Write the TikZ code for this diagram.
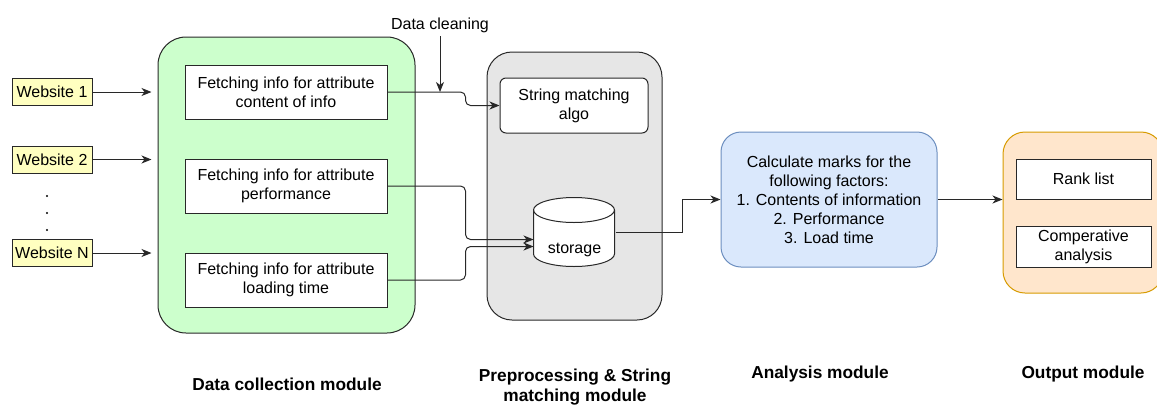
\documentclass[tikz,border=0pt]{standalone}
\usepackage{fontspec}
\setmainfont{Liberation Sans}
\usetikzlibrary{arrows.meta}

\definecolor{webyellow}{RGB}{255,255,192}
\definecolor{collgreen}{RGB}{204,255,204}
\definecolor{prepgray}{RGB}{230,230,230}
\definecolor{anafill}{RGB}{218,232,252}
\definecolor{anadraw}{RGB}{108,142,191}
\definecolor{outfill}{RGB}{255,230,204}
\definecolor{outdraw}{RGB}{215,155,0}
\definecolor{edge}{RGB}{40,40,40}

\begin{document}
\begin{tikzpicture}[x=1pt,y=-1pt,line width=1pt,
    >={Stealth[length=10pt,width=8pt,inset=3pt]},
    txt/.style={font=\fontsize{16}{19}\selectfont, align=center},
    modtitle/.style={font=\fontsize{17.3}{19.5}\selectfont\bfseries, align=center},
    website/.style={txt, draw=edge, fill=webyellow, inner sep=1pt, minimum width=80, minimum height=27},
    container/.style={draw=edge, rounded corners=28, line width=1pt},
    whitebox/.style={txt, draw=edge, fill=white, inner sep=0pt},
    lid/.style={x radius=40.5, y radius=12.5}]

    \useasboundingbox (0,0) rectangle (1157,405);

    % Draw module containers
    \node[container, fill=collgreen, minimum width=257, minimum height=296] (coll) at (286.5,185) {};
    \node[container, fill=prepgray, rounded corners=25, minimum width=175, minimum height=268] (prep) at (574.5,186) {};
    \node[container, txt, fill=anafill, draw=anadraw, rounded corners=20, minimum width=216, minimum height=135] (ana) at (829,199.5)
        {Calculate marks for the\\following factors:\\1. Contents of information\\2. Performance\\3. Load time};
    \node[container, fill=outfill, draw=outdraw, rounded corners=22, minimum width=160, minimum height=161] (out) at (1083,212.5) {};

    % Draw websites
    \node[website] (w1) at (52,92) {Website 1};
    \node[website] (w2) at (52,159.5) {Website 2};
    \node[website] (wn) at (52,253) {Website N};
    \foreach \y in {196,213,230}
        \fill (47,\y) circle (1.2pt);

    % Draw fetching boxes
    \node[whitebox, minimum width=202, minimum height=54] (f1) at (286,92) {Fetching info for attribute\\content of info};
    \node[whitebox, minimum width=202, minimum height=54] (f2) at (286,186) {Fetching info for attribute\\performance};
    \node[whitebox, minimum width=202, minimum height=54] (f3) at (286,280) {Fetching info for attribute\\loading time};

    % Draw preprocessing parts
    \node[whitebox, rounded corners=6, minimum width=148, minimum height=55] (algo) at (574,105.5) {String matching\\algo};
    \node[minimum width=81, minimum height=69, inner sep=0pt] (st) at (574.5,232.5) {};
    \draw[edge, fill=white] (st.north west) ++(0,12.5) -- ++(0,44) arc[lid, start angle=180, end angle=0]
        -- ++(0,-44) arc[lid, start angle=0, end angle=-180] -- cycle;
    \draw[edge] (st.north west) ++(0,12.5) arc[lid, start angle=180, end angle=0];
    \node[txt] (stlabel) at ([yshift=-17pt]st.center) {storage};

    % Draw output boxes
    \node[whitebox, minimum width=135, minimum height=40] (rank) at (1083.5,179) {Rank list};
    \node[whitebox, minimum width=135, minimum height=41] (comp) at (1083.5,246.5) {Comperative\\analysis};

    % Draw labels
    \node[txt] (clean) at (440,25) {Data cleaning};
    \node[modtitle] (t1) at (287,384) {Data collection module};
    \node[modtitle] (t2) at (575,387) {Preprocessing \& String\\matching module};
    \node[modtitle] (t3) at (820,374) {Analysis module};
    \node[modtitle] (t4) at (1083,374) {Output module};

    % Draw arrows
    \foreach \w in {w1,w2,wn}
        \draw[->, edge, shorten >=6pt] (\w.east) -- (\w.east -| coll.west);
    \draw[->, edge, rounded corners=5] (f1.east) -- ++(78,0) |- (algo.west);
    \draw[->, edge] (clean.south) -- (clean.south |- f1.east);
    \draw[->, edge, rounded corners=5] (f2.east) -- ++(78,0) |- ([yshift=-7pt]st.west);
    \draw[->, edge, rounded corners=5] (f3.east) -- ++(78,0) |- ([yshift=-14pt]st.west);
    \draw[->, edge] (st.east) -- ++(67,0) |- (ana.west);
    \draw[->, edge] (ana.east) -- (ana.east -| out.west);
\end{tikzpicture}
\end{document}
